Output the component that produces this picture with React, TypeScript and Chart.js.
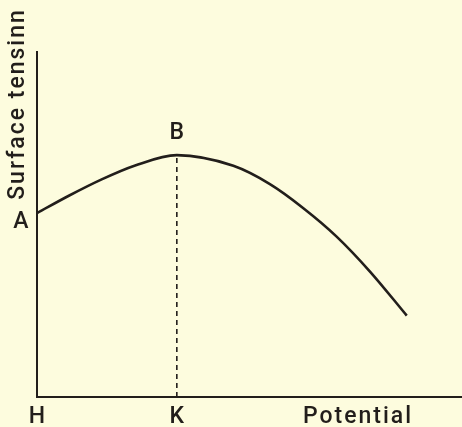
import React, { useEffect, useRef } from "react";
import { Chart, registerables } from "chart.js";

Chart.register(...registerables);

// Curve: surface tension vs potential (electrocapillary curve)
const curveX = [0, 7.6, 15.1, 23.1, 32.9, 46.2, 54.8, 62.6, 70.5, 78.4, 87.0];
const curveY = [53.3, 58.4, 63.0, 67.1, 70.1, 67.0, 61.7, 54.8, 46.5, 36.3, 23.6];

const xLabels = ["H", "K", "Potential"];
const potentialLabelX = 75.3;
const yTitle = "Surface tensinn";
const startLabel = "A";
const peakLabel = "B";

const INK = "#221e1b";
const BG = "#fdfcde";
const FONT = "500 23px Roboto, 'DejaVu Sans', sans-serif";

export default function App() {
  const ref = useRef<HTMLCanvasElement>(null);

  useEffect(() => {
    const canvas = ref.current;
    if (!canvas) return;
    let peak = 0;
    curveY.forEach((v, i) => {
      if (v > curveY[peak]) peak = i;
    });
    const curve = curveX.map((x, i) => ({ x, y: curveY[i] }));
    const drop = [
      { x: curveX[peak], y: 0 },
      { x: curveX[peak], y: curveY[peak] },
    ];

    const labelPlugin = {
      id: "labels",
      afterDraw(chart: any) {
        const ctx = chart.ctx as CanvasRenderingContext2D;
        const xs = chart.scales.x;
        const ys = chart.scales.y;
        ctx.save();
        ctx.fillStyle = INK;
        ctx.font = FONT;
        (ctx as any).letterSpacing = "2px";
        ctx.textBaseline = "alphabetic";
        ctx.textAlign = "center";
        const base = ys.bottom + 26;
        const xVals = [0, curveX[peak], potentialLabelX];
        xLabels.forEach((t, i) => {
          ctx.fillText(t, xs.getPixelForValue(xVals[i]) + 1, base);
        });
        // A at start of curve
        ctx.fillText(startLabel, xs.left - 15, ys.getPixelForValue(curveY[0]) + 15);
        // B above peak
        ctx.fillText(peakLabel, xs.getPixelForValue(curveX[peak]) + 1, ys.getPixelForValue(curveY[peak]) - 16);
        // y title
        ctx.translate(xs.left - 13, ys.top + 52);
        ctx.rotate(-Math.PI / 2);
        ctx.fillText(yTitle, 0, 0);
        ctx.restore();
      },
    };

    const chart = new Chart(canvas, {
      type: "scatter",
      data: {
        datasets: [
          {
            data: curve,
            showLine: true,
            borderColor: INK,
            borderWidth: 2.6,
            pointRadius: 0,
            cubicInterpolationMode: "monotone",
          } as any,
          {
            data: drop,
            showLine: true,
            borderColor: INK,
            borderWidth: 1.6,
            borderDash: [5, 4],
            pointRadius: 0,
          } as any,
        ],
      },
      options: {
        animation: false,
        responsive: false,
        maintainAspectRatio: false,
        layout: { padding: { left: 37, top: 52, right: 0, bottom: 30 } },
        plugins: { legend: { display: false }, tooltip: { enabled: false } },
        scales: {
          x: {
            type: "linear",
            min: 0,
            max: 100,
            grid: { display: false, drawTicks: false },
            ticks: { display: false },
            border: { display: true, color: INK, width: 2 },
          },
          y: {
            type: "linear",
            min: 0,
            max: 100,
            grid: { display: false, drawTicks: false },
            ticks: { display: false },
            border: { display: true, color: INK, width: 2 },
          },
        },
      },
      plugins: [labelPlugin],
    });
    return () => chart.destroy();
  }, []);

  return (
    <div
      style={{
        position: "fixed",
        left: 0,
        top: 0,
        width: 462,
        height: 427,
        background: BG,
      }}
    >
      <canvas ref={ref} width={462} height={427} style={{ display: "block", width: 462, height: 427 }} />
    </div>
  );
}
